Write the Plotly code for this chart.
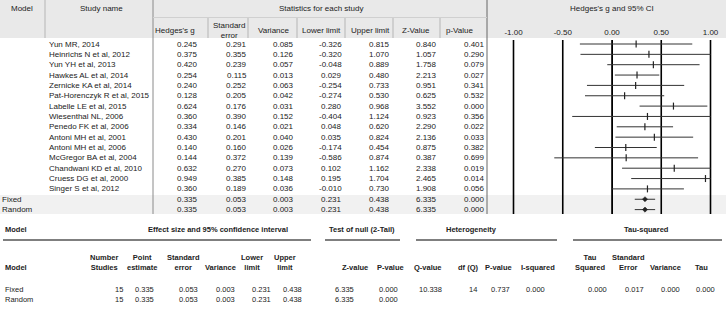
import plotly.graph_objects as go
import numpy as np

W, H = 726, 313

# ---------------- data ----------------
studies = ["Yun MR, 2014", "Heinrichs N et al, 2012", "Yun YH et al, 2013", "Hawkes AL et al, 2014",
           "Zernicke KA et al, 2014", "Pat-Horenczyk R et al, 2015", "Labelle LE et al, 2015",
           "Wiesenthal NL, 2006", "Penedo FK et al, 2006", "Antoni MH et al, 2001",
           "Antoni MH et al, 2006", "McGregor BA et al, 2004", "Chandwani KD et al, 2010",
           "Cruess DG et al, 2000", "Singer S et al, 2012"]
hedges_g = [0.245, 0.375, 0.420, 0.254, 0.240, 0.128, 0.624, 0.360, 0.334, 0.430, 0.140, 0.144, 0.632, 0.949, 0.360]
std_err = [0.291, 0.355, 0.239, 0.115, 0.252, 0.205, 0.176, 0.390, 0.146, 0.201, 0.160, 0.372, 0.270, 0.385, 0.189]
variance = [0.085, 0.126, 0.057, 0.013, 0.063, 0.042, 0.031, 0.152, 0.021, 0.040, 0.026, 0.139, 0.073, 0.148, 0.036]
lower = [-0.326, -0.320, -0.048, 0.029, -0.254, -0.274, 0.280, -0.404, 0.048, 0.035, -0.174, -0.586, 0.102, 0.195, -0.010]
upper = [0.815, 1.070, 0.889, 0.480, 0.733, 0.530, 0.968, 1.124, 0.620, 0.824, 0.454, 0.874, 1.162, 1.704, 0.730]
z_value = [0.840, 1.057, 1.758, 2.213, 0.951, 0.625, 3.552, 0.923, 2.290, 2.136, 0.875, 0.387, 2.338, 2.465, 1.908]
p_value = [0.401, 0.290, 0.079, 0.027, 0.341, 0.532, 0.000, 0.356, 0.022, 0.033, 0.382, 0.699, 0.019, 0.014, 0.056]

models = ["Fixed", "Random"]
n_studies = [15, 15]
sum_g = [0.335, 0.335]
sum_se = [0.053, 0.053]
sum_var = [0.003, 0.003]
sum_lower = [0.231, 0.231]
sum_upper = [0.438, 0.438]
sum_z = [6.335, 6.335]
sum_p = [0.000, 0.000]

q_value = 10.338
df_q = 14
p_het = 0.737
i_squared = 0.000
tau_sq = 0.000
tau_se = 0.017
tau_var = 0.000
tau = 0.000

axis_ticks = [-1.0, -0.5, 0.0, 0.5, 1.0]
axis_min, axis_max = -1.0, 1.0

# ---------------- layout constants (pixels) ----------------
ROW0, ROWH = 44.0, 10.35
F_X0, F_ZERO, F_SCALE = 487.0, 612.0, 98.5
F_TOP, F_BOT = 40.0, 214.0

FONT = "Liberation Sans, Arial, sans-serif"
BFONT = "Liberation Sans, Arial, sans-serif"
BSIZE = 7.5
TXT = "#222222"

fig = go.Figure()
ann = []
shapes = []


def txt(x, y, s, anchor="left", size=8, family=FONT, yref="y", yanchor="middle", color=TXT):
    ann.append(dict(x=x, y=y, xref="x", yref=yref, text=s, showarrow=False, xanchor=anchor,
                    yanchor=yanchor, font=dict(family=family, size=size, color=color),
                    borderpad=0))


def line(x0, y0, x1, y1, color="#888888", width=1, layer="above", xref="x", yref="y"):
    shapes.append(dict(type="line", xref=xref, yref=yref, x0=x0, y0=y0, x1=x1, y1=y1,
                       line=dict(color=color, width=width), layer=layer))


def rect(x0, y0, x1, y1, color):
    shapes.append(dict(type="rect", xref="x", yref="y", x0=x0, y0=y0, x1=x1, y1=y1,
                       line=dict(width=0), fillcolor=color, layer="below"))


# backgrounds
rect(0, 0, W, 38, "#e9e9e9")
rect(0, 195, W, 214, "#f1f1f1")

# separators
line(45, 0, 45, 38, "#b5b5b5")
line(153, 0, 153, 214, "#8a8a8a")
line(487, 0, 487, 214, "#666666")
for xs in [208, 248, 297, 345, 393, 440]:
    line(xs, 18, xs, 38, "#b5b5b5")
line(153, 17.5, 487, 17.5, "#d0d0d0")

# header text (top table)
txt(22, 8, "Model", "center")
txt(101, 8, "Study name", "center")
txt(321, 8, "Statistics for each study", "center")
txt(612, 8, "Hedges's g and 95% CI", "center")
col_right = [199, 248, 295, 343, 391, 438, 486]
hdr_centers = [175, 229, 274, 321, 370, 416, 460]
hdr_labels = ["Hedges's g", "Standard<br>error", "Variance", "Lower limit", "Upper limit", "Z-Value", "p-Value"]
for c, lab in zip(hdr_centers, hdr_labels):
    txt(c, 30, lab, "center")

# study rows (positioned on y2 row axis)
cols = [hedges_g, std_err, variance, lower, upper, z_value, p_value]
for i, name in enumerate(studies):
    txt(48, i, name, yref="y2")
    for xr, col in zip(col_right, cols):
        txt(xr, i, f"{col[i]:.3f}", "right", yref="y2")
sum_cols = [sum_g, sum_se, sum_var, sum_lower, sum_upper, sum_z, sum_p]
for j, m in enumerate(models):
    r = len(studies) + j
    txt(1, r, m, yref="y2")
    for xr, col in zip(col_right, sum_cols):
        txt(xr, r, f"{col[j]:.3f}", "right", yref="y2")

# ---------------- axes ranges ----------------
x2_lo = (F_X0 - F_ZERO) / F_SCALE
x2_hi = (W - F_ZERO) / F_SCALE
y2_lo = (F_TOP - ROW0) / ROWH
y2_hi = (F_BOT - ROW0) / ROWH

# forest reference lines at tick values (as a trace)
gx, gy = [], []
for t in axis_ticks:
    gx += [t, t, None]
    gy += [y2_lo, y2_hi, None]
fig.add_trace(go.Scatter(x=gx, y=gy, xaxis="x2", yaxis="y2", mode="lines",
                         line=dict(color="#000000", width=1.6, simplify=False),
                         hoverinfo="skip", showlegend=False))

# ---------------- forest marks ----------------
all_low = lower + sum_lower
all_up = upper + sum_upper
all_g = hedges_g + sum_g
rows = list(range(len(all_g)))
xs, ys = [], []
for r, lo, up in zip(rows, all_low, all_up):
    xs += [max(lo, axis_min), min(up, axis_max), None]
    ys += [r, r, None]
fig.add_trace(go.Scatter(x=xs, y=ys, xaxis="x2", yaxis="y2", mode="lines",
                         line=dict(color="#333333", width=1), hoverinfo="skip", showlegend=False))
ns = len(studies)
fig.add_trace(go.Scatter(x=hedges_g, y=rows[:ns], xaxis="x2", yaxis="y2", mode="markers",
                         marker=dict(symbol="line-ns", size=5, line=dict(color="#222222", width=1.2)),
                         showlegend=False, hoverinfo="skip"))
fig.add_trace(go.Scatter(x=sum_g, y=rows[ns:], xaxis="x2", yaxis="y2", mode="markers",
                         marker=dict(symbol="diamond", size=4, color="#222222",
                                     line=dict(color="#222222", width=0.5)),
                         showlegend=False, hoverinfo="skip"))

# ---------------- bottom summary table ----------------
BOLD = lambda s: f"<b>{s}</b>"
txt(4, 229, BOLD("Model"), family=BFONT, size=BSIZE)
txt(218, 229, BOLD("Effect size and 95% confidence interval"), "center", family=BFONT, size=BSIZE)
txt(362, 229, BOLD("Test of null (2-Tail)"), "center", family=BFONT, size=BSIZE)
txt(471, 229, BOLD("Heterogeneity"), "center", family=BFONT, size=BSIZE)
txt(646, 229, BOLD("Tau-squared"), "center", family=BFONT, size=BSIZE)
for a, b in [(3, 311), (325, 400), (416, 557), (573, 722)]:
    line(a, 240, b, 240, "#555555", 1.5)

sub_hdr = [(4, "Model", "left"), (104, "Number<br>Studies", "center"), (142, "Point<br>estimate", "center"),
           (183, "Standard<br>error", "center"), (220, "Variance", "center"), (252, "Lower<br>limit", "center"),
           (285, "Upper<br>limit", "center"), (355, "Z-value", "center"), (390, "P-value", "center"),
           (428, "Q-value", "center"), (468, "df (Q)", "center"), (498, "P-value", "center"),
           (538, "I-squared", "center"), (590, "Tau<br>Squared", "center"), (628, "Standard<br>Error", "center"),
           (665, "Variance", "center"), (701, "Tau", "center")]
for x, s, anc in sub_hdr:
    txt(x, 273, BOLD(s), anc, family=BFONT, size=BSIZE, yanchor="bottom")

b_right = [124, 155, 199, 236, 272, 303, 355, 399]
for j, m in enumerate(models):
    yy = 289 + 10 * j
    txt(4, yy, m, family=BFONT, size=BSIZE)
    vals = [str(n_studies[j])] + [f"{c[j]:.3f}" for c in [sum_g, sum_se, sum_var, sum_lower, sum_upper, sum_z, sum_p]]
    for xr, v in zip(b_right, vals):
        txt(xr, yy, v, "right", family=BFONT, size=BSIZE)
het_vals = [f"{q_value:.3f}", str(df_q), f"{p_het:.3f}", f"{i_squared:.3f}",
            f"{tau_sq:.3f}", f"{tau_se:.3f}", f"{tau_var:.3f}", f"{tau:.3f}"]
for xr, v in zip([443, 478, 511, 546, 608, 645, 681, 716], het_vals):
    txt(xr, 289, v, "right", family=BFONT, size=BSIZE)

fig.update_layout(
    width=W, height=H, margin=dict(l=0, r=0, t=0, b=0),
    paper_bgcolor="white", plot_bgcolor="rgba(0,0,0,0)",
    xaxis=dict(range=[0, W], domain=[0, 1], visible=False, fixedrange=True),
    yaxis=dict(range=[H, 0], domain=[0, 1], visible=False, fixedrange=True),
    xaxis2=dict(domain=[F_X0 / W, 1], range=[x2_lo, x2_hi], anchor="y2", side="top",
                tickvals=axis_ticks, ticktext=[f"{t:.2f}" for t in axis_ticks],
                showgrid=True, gridcolor="#000000", gridwidth=1.2, zeroline=False, showline=False,
                ticks="", tickfont=dict(family=FONT, size=8, color=TXT), ticklabelstandoff=2),
    yaxis2=dict(domain=[1 - F_BOT / H, 1 - F_TOP / H], range=[y2_hi, y2_lo], anchor="x2",
                visible=False, showgrid=False, zeroline=False),
    annotations=ann, shapes=shapes, showlegend=False,
)

fig.write_html("out.html")
